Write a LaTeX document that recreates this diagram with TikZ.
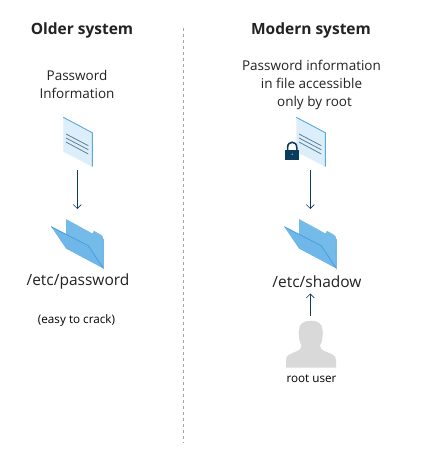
\documentclass[tikz,border=0pt]{standalone}
\usepackage{fontspec}
\setmainfont{Open Sans}
\usetikzlibrary{arrows.meta}
\definecolor{docfill}{HTML}{DCEEFA}
\definecolor{docedge}{HTML}{5AA9E0}
\definecolor{docline}{HTML}{5C7F99}
\definecolor{foldback}{HTML}{74BBEA}
\definecolor{foldfront}{HTML}{6FB7E8}
\definecolor{foldedge}{HTML}{4A9FDB}
\definecolor{navy}{HTML}{0B3C5D}
\definecolor{person}{HTML}{D9D9D9}
\definecolor{ink}{HTML}{222222}
\tikzset{
 x=1pt,y=-1pt,
 title/.style={font=\fontsize{15.5}{18}\selectfont\bfseries,text=ink,align=center},
 label/.style={font=\fontsize{13.5}{18}\selectfont,text=ink,align=center},
 path/.style={font=\fontsize{15.5}{18}\selectfont,text=ink},
 small/.style={font=\fontsize{11.7}{14}\selectfont,text=black},
 conn/.style={navy,line width=0.8pt,-{Straight Barb[length=4pt,width=8pt,line width=0.6pt]}},
}
\newcommand{\docicon}[1]{%
 \begin{scope}[shift={(#1,0)}]
  \fill[docfill] (63.3,117.3) -- (92.3,132.7) -- (92.3,166.7) -- (63.3,151.7) -- cycle;
  \draw[docedge,line width=0.9pt] (63.3,117.3) -- (92.3,132.7) -- (92.3,166.7);
  \draw[docline,line width=0.8pt] (66,134) -- (88.3,145.7) (66,138) -- (88.3,149.7) (66,142) -- (88.3,154);
 \end{scope}}
\newcommand{\foldericon}[1]{%
 \begin{scope}[shift={(#1,0)}]
  \fill[foldback] (66,219) -- (92.5,233.5) -- (94,230.8) -- (100.5,234.5) .. controls (102.5,235.5) and (103.3,237) .. (103.3,239) -- (103.3,268.3) -- (66,248.3) -- cycle;
  \fill[foldfront] (51.2,226.7) -- (88.3,245.7) -- (103.3,268.3) -- (66,248.5) -- cycle;
  \draw[foldedge,line width=0.8pt] (51.2,226.7) -- (88.3,245.7) -- (103.3,268.3) -- (103.3,239);
 \end{scope}}
\begin{document}
\begin{tikzpicture}
\useasboundingbox (0,0) rectangle (446,464);
\fill[white] (0,0) rectangle (446,464);
\node[title] (t1) at (82,30) {Older system};
\node[title] (t2) at (311,30) {Modern system};
\draw[gray!70,line width=0.6pt,dash pattern=on 3pt off 3pt] (183,28) -- (183,443);
\node[label] (l1) at (77,84) {Password\\Information};
\node[label] (l2) at (311.5,84.5) {Password information\\in file accessible\\\hspace*{6pt}only by root};
\docicon{0}
\docicon{233}
\foldericon{0}
\foldericon{233}
% lock
\draw[navy,line width=1.6pt] (287.6,151) -- (287.6,147.5) .. controls (287.6,140.5) and (296.8,140.5) .. (296.8,147.5) -- (296.8,151);
\fill[navy] (285.3,150) rectangle (299,160);
\fill[docedge] (292.2,154.2) circle (0.9);
% person
\fill[person] (286,367.7) -- (286,360) .. controls (286,355) and (290,354) .. (296,351.5) .. controls (300,350) and (301.5,348) .. (301.5,345.5) .. controls (300,343) and (299,340) .. (299,336) .. controls (298,334) and (299,332) .. (299,330) .. controls (299,323.5) and (304,320.7) .. (310.7,320.7) .. controls (317.5,320.7) and (322.5,323.5) .. (322.5,330) .. controls (322.5,332) and (323.5,334) .. (322.5,336) .. controls (322.5,340) and (321.5,343) .. (320,345.5) .. controls (320,348) and (321.5,350) .. (325.5,351.5) .. controls (331.5,354) and (336,355) .. (336,360) -- (336,367.7) -- cycle;
\node[path] (f1) at (78,281.5) {/etc/password};
\node[path] (f2) at (317,281.5) {/etc/shadow};
\node[small] (n1) at (76.5,320) {(easy to crack)};
\node[small] (n2) at (311.5,379) {root user};
\coordinate (d1) at (77.3,170);
\coordinate (e1) at (77.3,209);
\coordinate (d2) at (310.3,170);
\coordinate (e2) at (310.3,209);
\coordinate (r) at (310.3,316);
\coordinate (s) at (310.3,293.5);
\draw[conn] (d1) -- (e1);
\draw[conn] (d2) -- (e2);
\draw[conn] (r) -- (s);
\end{tikzpicture}
\end{document}
